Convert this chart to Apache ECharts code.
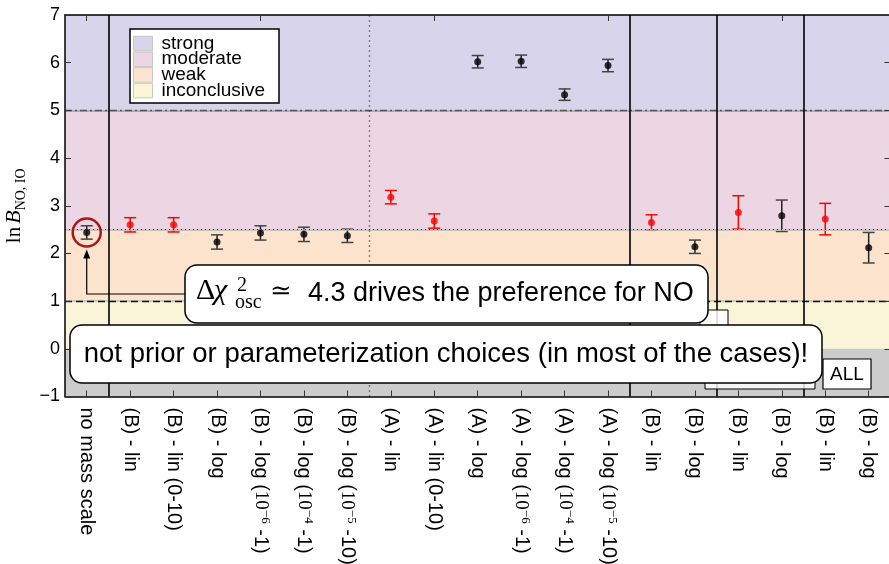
<!DOCTYPE html>
<html><head><meta charset="utf-8">
<script src="https://cdn.jsdelivr.net/npm/echarts@6/dist/echarts.min.js"></script>
<style>html,body{margin:0;padding:0;background:#fff}#c{width:889px;height:564px}</style>
</head><body><div id="c"></div>
<script>
// ---- data ----
const categories = ['no mass scale','(B) - lin','(B) - lin (0-10)','(B) - log','(B) - log (10^−6 -1)','(B) - log (10^−4 -1)','(B) - log (10^−5 -10)',
  '(A) - lin','(A) - lin (0-10)','(A) - log','(A) - log (10^−6 -1)','(A) - log (10^−4 -1)','(A) - log (10^−5 -10)',
  '(B) - lin','(B) - log','(B) - lin','(B) - log','(B) - lin','(B) - log'];
const lnB    = [2.44, 2.60, 2.60, 2.24, 2.43, 2.40, 2.37, 3.18, 2.68, 6.02, 6.03, 5.33, 5.94, 2.65, 2.14, 2.86, 2.79, 2.72, 2.12];
const lnBErr = [0.14, 0.15, 0.15, 0.15, 0.15, 0.15, 0.14, 0.14, 0.15, 0.13, 0.13, 0.12, 0.13, 0.16, 0.14, 0.35, 0.33, 0.33, 0.32];
const redIdx = [1, 2, 7, 8, 13, 15, 17];
const yTicks = [-1, 0, 1, 2, 3, 4, 5, 6, 7];
const yTickLabels = ['−1','0','1','2','3','4','5','6','7'];
const bandNames = ['strong','moderate','weak','inconclusive'];
const bandLo = [5, 2.5, 1, 0];
const bandHi = [7, 5, 2.5, 1];
const groupSeparators = [0.5, 12.5, 14.5, 16.5];
const priorSeparator = [6.5];
const thresholdLines = [5, 2.5, 1];

// ---- styles ----
const bandColors = ['#d8d4ec', '#ecd6e3', '#fbe3cd', '#faf5d9'];
const belowColor = '#cccccc';

const chart = echarts.init(document.getElementById('c'), null, {renderer: 'canvas'});

const blackData = [], redData = [], errData = [];
lnB.forEach((v, i) => {
  if (redIdx.includes(i)) redData.push([i, v]); else blackData.push([i, v]);
  errData.push([i, v, lnBErr[i], redIdx.includes(i) ? 1 : 0]);
});

const bandAreas = bandNames.map((n, k) => [{yAxis: bandLo[k], itemStyle: {color: bandColors[k]}}, {yAxis: bandHi[k]}]);
bandAreas.push([{yAxis: -1, itemStyle: {color: belowColor}}, {yAxis: 0}]);

const hStyles = {
  5:   [{type: 'solid', color: '#b0b0b0', width: 2}, {type: [7, 3, 2, 3], color: '#555', width: 1.3}],
  2.5: [{type: 'solid', color: '#b8b8b8', width: 1.5}, {type: [1, 3], color: '#333', width: 1.2}],
  1:   [{type: 'solid', color: '#bbb', width: 1.5}, {type: [7, 4], color: '#111', width: 1.3}]
};
const hLines = [];
thresholdLines.forEach(y => hStyles[y].forEach(ls => hLines.push({yAxis: y, lineStyle: ls})));

const vLines = groupSeparators.map(x => ({xAxis: x, lineStyle: {type: 'solid', color: '#000', width: 1.6}}))
  .concat(priorSeparator.map(x => ({xAxis: x, lineStyle: {type: [1, 4], color: '#222', width: 1.4}})));

function fmtCat(s) {
  return s.replace(/10\^(\S+)/, '{s|10}{p|$1}');
}

const option = {
  animation: false,
  backgroundColor: '#fff',
  grid: {left: 65, top: 15, width: 825.4, height: 381.5, show: false, containLabel: false, outerBoundsMode: 'none'},
  legend: {
    data: bandNames, orient: 'vertical', left: 130, top: 29,
    padding: [5, 14, 3, 3], itemGap: -3.3, itemWidth: 19, itemHeight: 14.5,
    icon: 'rect', backgroundColor: '#fff', borderColor: '#000', borderWidth: 1.5,
    itemStyle: {borderColor: '#c8c8c8', borderWidth: 1},
    textStyle: {fontFamily: 'Liberation Sans', fontSize: 19, color: '#000', padding: [0, 0, 0, 4]},
    selectedMode: false
  },
  xAxis: [
    {type: 'category', data: categories, position: 'bottom', boundaryGap: true, z: 10,
     axisLine: {show: true, onZero: false, lineStyle: {color: '#000', width: 1.5}},
     axisTick: {show: true, inside: true, length: 6, alignWithLabel: true, lineStyle: {color: '#333'}},
     axisLabel: {interval: 0, rotate: -90, margin: 11, fontFamily: 'Liberation Sans', fontSize: 20, color: '#000',
       lineHeight: 22, formatter: v => fmtCat(v),
       rich: {s: {fontFamily: 'Liberation Serif', fontSize: 19, lineHeight: 22},
              p: {fontFamily: 'Liberation Serif', fontSize: 13, lineHeight: 22, verticalAlign: 'top'}}},
     splitLine: {show: false}},
    {type: 'category', data: categories, position: 'top', boundaryGap: true, z: 10,
     axisLine: {show: true, onZero: false, lineStyle: {color: '#000', width: 1.5}},
     axisTick: {show: true, inside: true, length: 6, alignWithLabel: true, lineStyle: {color: '#333'}},
     axisLabel: {show: false}, splitLine: {show: false}},
    {type: 'value', min: -0.5, max: 18.5, show: false, axisLine: {onZero: false}}
  ],
  yAxis: [
    {type: 'value', min: -1, max: 7, interval: 1, z: 10,
     axisLine: {show: true, onZero: false, lineStyle: {color: '#000', width: 1.5}},
     axisTick: {show: true, inside: true, length: 6, lineStyle: {color: '#333'}},
     axisLabel: {fontFamily: 'Liberation Sans', fontSize: 18, color: '#000', margin: 5,
       formatter: v => yTickLabels[yTicks.indexOf(v)]},
     splitLine: {show: false},
     name: '{n|ln}{b|B}{s|NO, IO}', nameLocation: 'middle', nameRotate: 90, nameGap: 29,
     nameTextStyle: {rich: {
       n: {fontFamily: 'Liberation Serif', fontSize: 21, color: '#000', lineHeight: 28, verticalAlign: 'middle'},
       b: {fontFamily: 'Liberation Serif', fontStyle: 'italic', fontSize: 22, color: '#000', lineHeight: 28, verticalAlign: 'middle', padding: [0, 0, 0, 3]},
       s: {fontFamily: 'Liberation Serif', fontSize: 14, color: '#000', lineHeight: 28, verticalAlign: 'bottom'}
     }}},
    {type: 'value', min: -1, max: 7, interval: 1, position: 'right', z: 10,
     axisLine: {show: true, onZero: false, lineStyle: {color: '#000', width: 1.5}},
     axisTick: {show: true, inside: true, length: 6, lineStyle: {color: '#333'}},
     axisLabel: {show: false}, splitLine: {show: false}}
  ],
  series: [
    {name: 'black', type: 'scatter', data: blackData, symbolSize: 7, z: 5,
     itemStyle: {color: '#000'}, silent: true,
     markArea: {silent: true, data: bandAreas, z: 0},
     markLine: {silent: true, symbol: ['none', 'none'], label: {show: false}, data: hLines}},
    {name: 'red', type: 'scatter', data: redData, symbolSize: 7, z: 5, itemStyle: {color: '#ff0000'}, silent: true},
    {name: 'err', type: 'custom', data: errData, z: 4, silent: true,
     renderItem: function (params, api) {
       const x = api.value(0), v = api.value(1), e = api.value(2), red = api.value(3);
       const top = api.coord([x, v + e]), bot = api.coord([x, v - e]);
       const col = red ? '#ff0000' : '#222';
       const w = 6;
       return {type: 'group', children: [
         {type: 'line', shape: {x1: top[0], y1: top[1], x2: bot[0], y2: bot[1]}, style: {stroke: col, lineWidth: 1.5}},
         {type: 'line', shape: {x1: top[0] - w, y1: top[1], x2: top[0] + w, y2: top[1]}, style: {stroke: red ? col : '#444', lineWidth: 1.5}},
         {type: 'line', shape: {x1: bot[0] - w, y1: bot[1], x2: bot[0] + w, y2: bot[1]}, style: {stroke: red ? col : '#444', lineWidth: 1.5}}
       ]};
     }},
    {name: 'sep', type: 'line', xAxisIndex: 2, data: [[-0.5, -5], [18.5, -5]], showSymbol: false, silent: true,
     lineStyle: {opacity: 0}, z: 3,
     markLine: {silent: true, symbol: ['none', 'none'], label: {show: false}, data: vLines}}
  ].concat(bandNames.map((n, k) => ({name: n, type: 'bar', data: [], itemStyle: {color: bandColors[k]}})))
};
chart.setOption(option);

// annotations
const p0 = chart.convertToPixel({xAxisIndex: 0, yAxisIndex: 0}, [0, lnB[0]]);
const font = 'Liberation Sans';
chart.setOption({graphic: [
  {type: 'circle', shape: {cx: p0[0], cy: p0[1], r: 14}, style: {fill: 'none', stroke: '#a81818', lineWidth: 2.5}, z: 50},
  {type: 'polyline', shape: {points: [[186, 294], [p0[0], 294], [p0[0], p0[1] + 22]]}, style: {fill: 'none', stroke: '#000', lineWidth: 1.2}, z: 50},
  {type: 'polygon', shape: {points: [[p0[0], p0[1] + 17], [p0[0] - 3.5, p0[1] + 26], [p0[0] + 3.5, p0[1] + 26]]}, style: {fill: '#000'}, z: 50},
  // partially hidden boxes
  {type: 'rect', shape: {x: 700, y: 310, width: 28, height: 30}, style: {fill: 'rgba(255,255,255,0.85)', stroke: '#000', lineWidth: 1}, z: 40},
  {type: 'rect', shape: {x: 705, y: 345, width: 110, height: 44}, style: {fill: 'rgba(255,255,255,0.8)', stroke: '#000', lineWidth: 1}, z: 40},
  {type: 'rect', shape: {x: 823, y: 359, width: 48, height: 30}, style: {fill: '#fff', stroke: '#000', lineWidth: 1.2}, z: 40},
  {type: 'text', x: 847, y: 375, style: {text: 'ALL', font: '19px ' + font, fill: '#000', align: 'center', verticalAlign: 'middle'}, z: 41},
  // box 1
  {type: 'rect', shape: {x: 185, y: 265, width: 523, height: 58, r: 12}, style: {fill: '#fff', stroke: '#000', lineWidth: 1.5}, z: 60},
  {type: 'text', x: 196, y: 291.5, style: {text: 'Δ', font: '30px Liberation Serif', fill: '#000', verticalAlign: 'middle'}, z: 61},
  {type: 'text', x: 214, y: 291.5, style: {text: 'χ', font: 'italic 30px Liberation Serif', fill: '#000', verticalAlign: 'middle'}, z: 61},
  {type: 'text', x: 237, y: 286, style: {text: '2', font: '20px Liberation Serif', fill: '#000', verticalAlign: 'middle'}, z: 61},
  {type: 'text', x: 235, y: 302.5, style: {text: 'osc', font: '20px Liberation Serif', fill: '#000', verticalAlign: 'middle'}, z: 61},
  {type: 'text', x: 270, y: 292, style: {text: '≃', font: '26px DejaVu Serif', fill: '#000', verticalAlign: 'middle'}, z: 61},
  {type: 'text', x: 308, y: 294, style: {text: '4.3 drives the preference for NO', font: '27px ' + font, fill: '#000', verticalAlign: 'middle'}, z: 61},
  // box 2
  {type: 'rect', shape: {x: 70, y: 325, width: 752, height: 58, r: 12}, style: {fill: '#fff', stroke: '#000', lineWidth: 1.5}, z: 60},
  {type: 'text', x: 446, y: 354, style: {text: 'not prior or parameterization choices (in most of the cases)!', font: '27.5px ' + font, fill: '#000', align: 'center', verticalAlign: 'middle'}, z: 61}
]});
</script></body></html>
